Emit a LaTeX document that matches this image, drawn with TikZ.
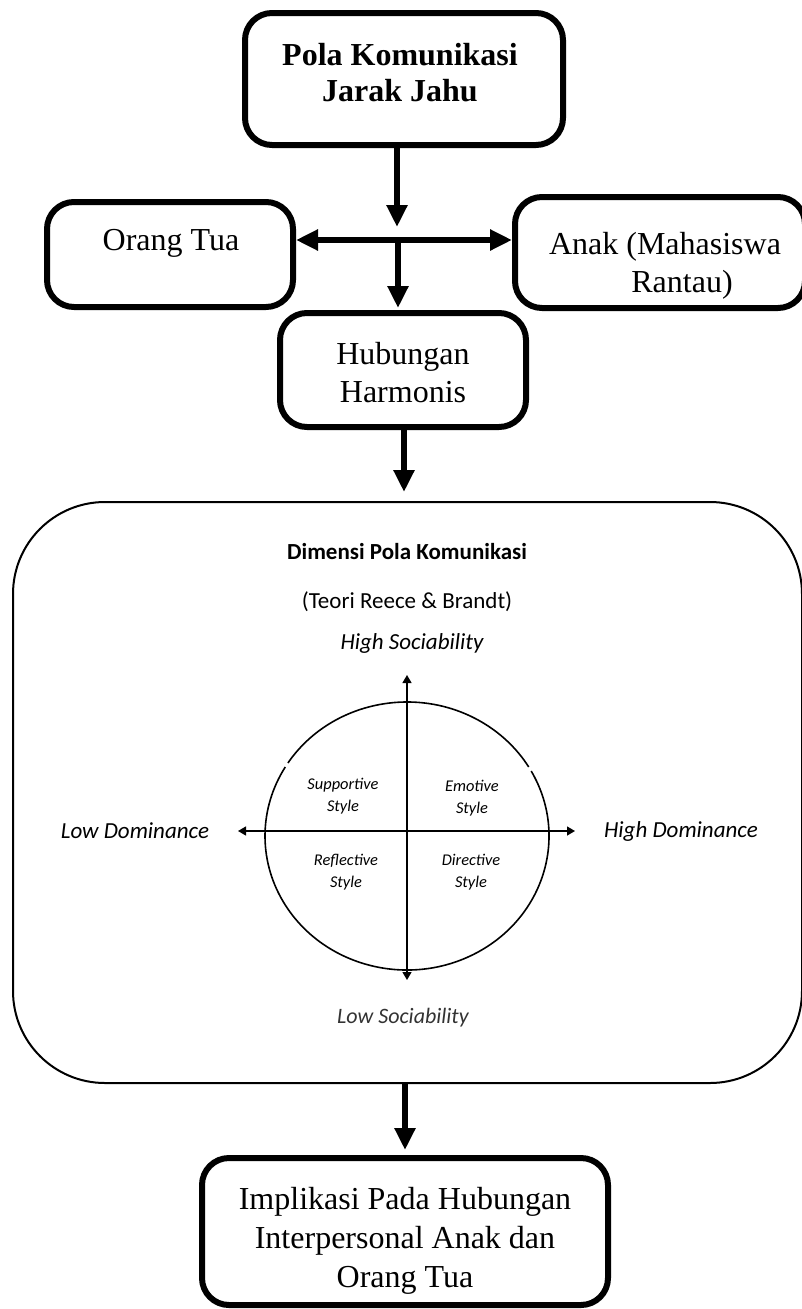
\documentclass[tikz,border=0pt]{standalone}
\usepackage{fontspec}
\setmainfont{Liberation Serif}
\newfontfamily\carlitofont{Carlito}
\usetikzlibrary{arrows.meta}
\begin{document}
\begin{tikzpicture}[x=1pt,y=-1pt,
  thickbox/.style={draw, line width=6pt, rounded corners=27pt, inner sep=0pt},
  bigarrow/.style={line width=6pt, -{Triangle[length=22pt,width=20pt]}},
  bigdarrow/.style={line width=6pt, {Triangle[length=22pt,width=20pt]}-{Triangle[length=22pt,width=20pt]}},
  thinarrow/.style={line width=1.3pt, {Triangle[length=8pt,width=9pt]}-{Triangle[length=8pt,width=9pt]}},
  serif/.style={inner sep=0pt, align=center, font=\fontsize{32}{38}\selectfont},
  cal/.style={inner sep=0pt, align=center, font=\carlitofont\itshape\fontsize{23}{26}\selectfont},
  calsmall/.style={inner sep=0pt, align=center, font=\carlitofont\itshape\fontsize{16.4}{22}\selectfont}
]
\path[use as bounding box] (0,0) rectangle (802,1309);

% boxes
\node[thickbox, minimum width=318pt, minimum height=132pt] (top) at (404,79) {};
\node[thickbox, minimum width=246pt, minimum height=105pt] (ot) at (170,254.5) {};
\node[thickbox, minimum width=290pt, minimum height=111pt] (anak) at (660,252.5) {};
\node[thickbox, minimum width=246pt, minimum height=114pt] (hub) at (403,370) {};
\node[thickbox, minimum width=406pt, minimum height=147pt] (impl) at (405,1231.5) {};
\node[draw, line width=2pt, rounded corners=92pt, inner sep=0pt, minimum width=789pt, minimum height=581pt] (big) at (407.5,792.5) {};

% texts
\node[serif, font=\fontsize{32}{36}\selectfont] (toptxt) at (400,73) {\textbf{Pola Komunikasi}\\\textbf{Jarak Jahu}};
\node[serif] (ottxt) at (171,243) {Orang Tua};
\node[serif] (anaktxt) at (665,266) {Anak (Mahasiswa\\\hspace*{34pt}Rantau)};
\node[serif] (hubtxt) at (403,373) {Hubungan\\Harmonis};
\node[serif, font=\fontsize{32}{39}\selectfont] (impltxt) at (405,1241) {Implikasi Pada Hubungan\\Interpersonal Anak dan\\Orang Tua};

% connectors
\coordinate (tip1) at (397,227);
\coordinate (j) at (398,240);
\draw[bigarrow] (top.south -| tip1) -- (tip1);
\draw[bigdarrow] (ot.east |- j) -- (anak.west |- j);
\draw[bigarrow, shorten >=2pt] (j) -- (hub.north -| j);
\coordinate (a3) at (404,0);
\draw[bigarrow, shorten >=9pt] (hub.south -| a3) -- (big.north -| a3);
\coordinate (a4) at (405,0);
\draw[bigarrow, shorten >=5pt] (big.south -| a4) -- (impl.north -| a4);

% inner diagram
\node[cal, font=\carlitofont\bfseries\fontsize{23}{26}\selectfont] (dim) at (407,552) {Dimensi Pola Komunikasi};
\node[cal, font=\carlitofont\fontsize{23}{26}\selectfont] (teori) at (407,602) {(Teori Reece \& Brandt)};
\node[cal] (hisoc) at (412,643) {High Sociability};
\node[cal] (lodom) at (135,831) {Low Dominance};
\node[cal] (hidom) at (681,831) {High Dominance};
\node[cal, font=\carlitofont\itshape\fontsize{22}{26}\selectfont, text=black!80] (losoc) at (403,1018) {Low Sociability};

\coordinate (c) at (407,836);
\draw[line width=1.6pt] (c) +(-147:142 and 134) arc[start angle=-147, end angle=-31, x radius=142, y radius=134];
\draw[line width=1.6pt] (c) +(-29:142 and 134) arc[start angle=-29, end angle=211, x radius=142, y radius=134];

\coordinate (hl) at (238,831);
\coordinate (hr) at (575,831);
\coordinate (vt) at (407,675);
\coordinate (vb) at (407,980);
\draw[thinarrow] (hl) -- (hr);
\draw[thinarrow] (vb) -- (vt);

\node[calsmall] (sup) at (343,796) {Supportive\\Style};
\node[calsmall] (emo) at (472,798) {Emotive\\Style};
\node[calsmall] (ref) at (346,872) {Reflective\\Style};
\node[calsmall] (dir) at (471,872) {Directive\\Style};
\end{tikzpicture}
\end{document}
